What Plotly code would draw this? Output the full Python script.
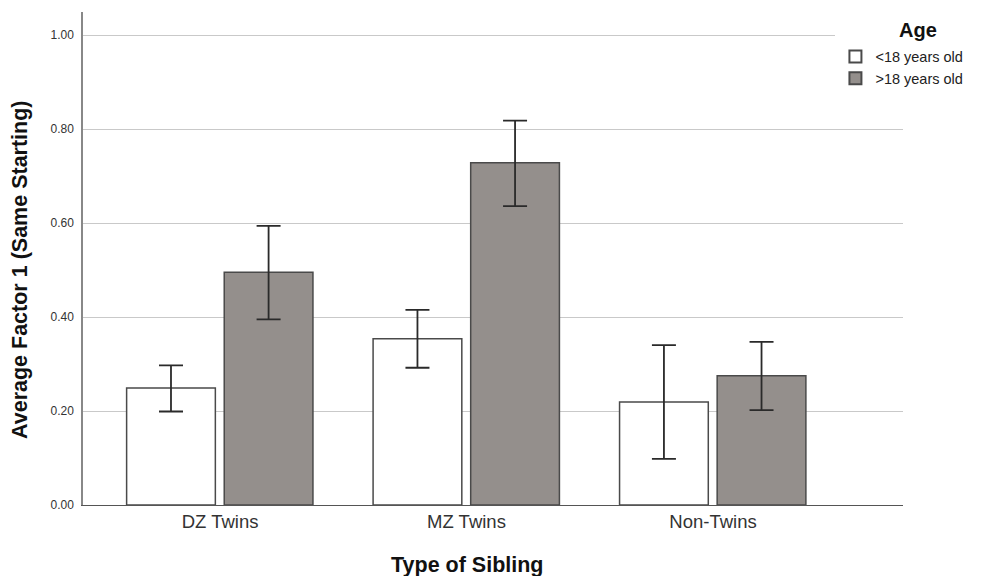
import plotly.graph_objects as go

# Mean Factor 1 scores by sibling type and age group, with error-bar limits
categories = ["DZ Twins", "MZ Twins", "Non-Twins"]
under18_mean = [0.249, 0.354, 0.219]
under18_upper = [0.297, 0.415, 0.340]
under18_lower = [0.199, 0.292, 0.098]
over18_mean = [0.495, 0.728, 0.275]
over18_upper = [0.594, 0.818, 0.347]
over18_lower = [0.395, 0.636, 0.202]
y_ticks = [0.0, 0.2, 0.4, 0.6, 0.8, 1.0]

x_pos = list(range(len(categories)))


def err(mean, upper, lower):
    return dict(
        type="data",
        symmetric=False,
        array=[u - m for u, m in zip(upper, mean)],
        arrayminus=[m - l for m, l in zip(mean, lower)],
        color="#2a2a2a",
        thickness=1.8,
        width=12,
    )


fig = go.Figure()
fig.add_trace(go.Bar(
    x=x_pos, y=under18_mean, name="<18 years old",
    marker=dict(color="#ffffff", line=dict(color="#4a4a4a", width=1.5)),
    width=0.36, offset=-0.379,
    error_y=err(under18_mean, under18_upper, under18_lower),
))
fig.add_trace(go.Bar(
    x=x_pos, y=over18_mean, name=">18 years old",
    marker=dict(color="#948f8c", line=dict(color="#4a4a4a", width=1.5)),
    width=0.36, offset=0.017,
    error_y=err(over18_mean, over18_upper, over18_lower),
))

sans = "Liberation Sans, Arial, sans-serif"
title_font = dict(family=sans, size=21.5, color="#111")

fig.update_layout(
    width=994, height=576,
    margin=dict(l=83, r=91, t=12, b=71),
    plot_bgcolor="#ffffff", paper_bgcolor="#ffffff",
    barmode="group",
    font=dict(family=sans, color="#222"),
    xaxis=dict(
        tickmode="array", tickvals=x_pos, ticktext=categories,
        range=[-0.556, 2.771],
        showgrid=False, zeroline=False,
        showline=True, linecolor="#555", linewidth=1.2,
        ticks="", tickfont=dict(size=18.5, color="#333"),
        automargin=False,
    ),
    yaxis=dict(
        range=[0, 1.049],
        tickmode="array", tickvals=y_ticks,
        tickformat=".2f",
        showgrid=True, gridcolor="#c9c9c9", gridwidth=1.2,
        zeroline=False,
        showline=True, linecolor="#888", linewidth=1.5,
        ticks="", ticklabelstandoff=5,
        tickfont=dict(size=12, color="#333"),
        automargin=False,
    ),
    legend=dict(
        # blank title line reserves the header row; the "Age" heading is an annotation
        title=dict(text="\u00a0", font=dict(size=20)),
        x=0.9176, xanchor="left", y=0.995, yanchor="top",
        bgcolor="#ffffff",
        font=dict(size=14.5, color="#222"),
        tracegroupgap=0, itemsizing="constant",
    ),
    showlegend=True,
    annotations=[
        dict(text="<b>Type of Sibling</b>", xref="x", yref="paper",
             x=1.0, y=-0.1217, xanchor="center", yanchor="middle",
             showarrow=False, font=title_font),
        dict(text="<b>Average Factor 1 (Same Starting)</b>", xref="paper", yref="paper",
             x=-0.0768, y=0.4767, xanchor="center", yanchor="middle",
             textangle=-90, showarrow=False, font=title_font),
        dict(text="<b>Age</b>", xref="paper", yref="paper",
             x=1.0183, y=0.9635, xanchor="center", yanchor="middle",
             showarrow=False, font=dict(family=sans, size=20, color="#111")),
    ],
)

fig.write_html("out.html")
